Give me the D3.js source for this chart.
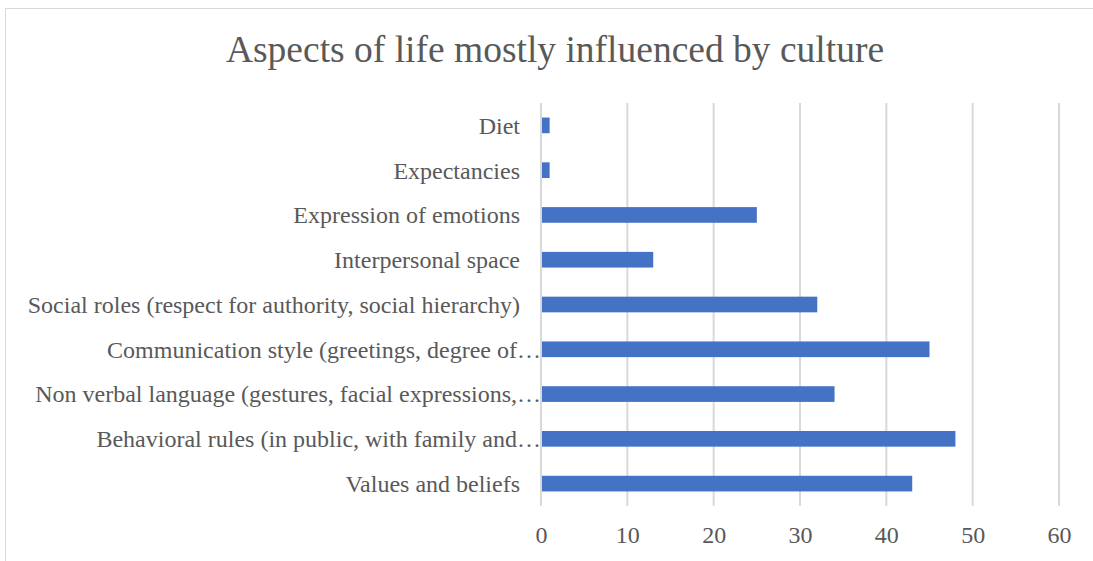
<!DOCTYPE html>
<html>
<head>
<meta charset="utf-8">
<script src="https://cdn.jsdelivr.net/npm/d3@7"></script>
<style>
  html, body { margin: 0; padding: 0; background: #fff; }
  svg { display: block; }
</style>
</head>
<body>
<svg id="chart" width="1093" height="561"></svg>
<script>
const title = "Aspects of life mostly influenced by culture";
const categories = [
  "Diet",
  "Expectancies",
  "Expression of emotions",
  "Interpersonal space",
  "Social roles (respect for authority, social hierarchy)",
  "Communication style (greetings, degree of…",
  "Non verbal language (gestures, facial expressions,…",
  "Behavioral rules (in public, with family and…",
  "Values and beliefs"
];
const values = [1, 1, 25, 13, 32, 45, 34, 48, 43];
const xTicks = [0, 10, 20, 30, 40, 50, 60];

const svg = d3.select("#chart");
const font = "'Liberation Serif', 'Times New Roman', serif";
const textColor = "#595959";

// chart border
svg.append("rect")
  .attr("x", 5.5).attr("y", 8.5)
  .attr("width", 1105).attr("height", 600)
  .attr("fill", "#fff").attr("stroke", "#d9d9d9").attr("stroke-width", 1);

const plot = { left: 541, right: 1059, top: 103, bottom: 506 };

const x = d3.scaleLinear().domain([0, 60]).range([plot.left, plot.right]);
const y = d3.scaleBand().domain(categories).range([plot.top, plot.bottom]).paddingInner(0.65).paddingOuter(0.325);

// gridlines
svg.append("g")
  .selectAll("line")
  .data(xTicks)
  .join("line")
  .attr("x1", d => x(d)).attr("x2", d => x(d))
  .attr("y1", plot.top).attr("y2", plot.bottom)
  .attr("stroke", "#d9d9d9").attr("stroke-width", 2);

// bars
svg.append("g")
  .selectAll("rect")
  .data(values)
  .join("rect")
  .attr("x", x(0) + 1)
  .attr("y", (d, i) => y(categories[i]))
  .attr("width", d => x(d) - x(0) - 1)
  .attr("height", y.bandwidth())
  .attr("fill", "#4472c4");

// x axis labels
const xAxis = d3.axisBottom(x).tickValues(xTicks).tickSize(0).tickPadding(0);
const gx = svg.append("g").attr("transform", `translate(0, ${plot.bottom})`).call(xAxis);
gx.select(".domain").remove();
gx.selectAll("text")
  .attr("dy", null)
  .attr("y", 37)
  .attr("font-family", font).attr("font-size", 24)
  .attr("fill", textColor);

// y axis labels
const yAxis = d3.axisLeft(y).tickSize(0).tickPadding(0);
const gy = svg.append("g").attr("transform", `translate(${plot.left - 21}, 0)`).call(yAxis);
gy.select(".domain").remove();
gy.selectAll("text")
  .attr("dy", "0.35em")
  .attr("x", d => d.endsWith("…") ? 21 : 0)
  .attr("font-family", font).attr("font-size", 24)
  .attr("fill", textColor);

// title
svg.append("text")
  .attr("x", 555).attr("y", 62)
  .attr("text-anchor", "middle")
  .attr("font-family", font).attr("font-size", 37.5)
  .attr("fill", textColor)
  .text(title);
</script>
</body>
</html>
